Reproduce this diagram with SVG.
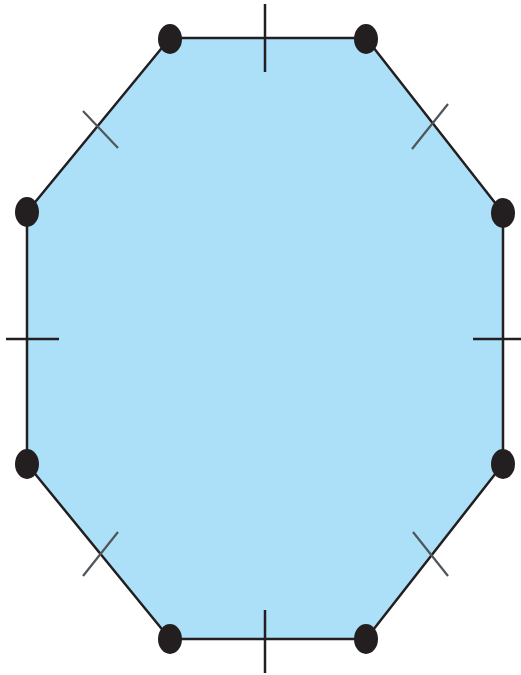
<svg xmlns="http://www.w3.org/2000/svg" width="521" height="675" viewBox="0 0 521 675">
<style>
.edge{fill:#abe0f8;stroke:#231f20;stroke-width:2.5;stroke-linejoin:round}
.tick{stroke:#231f20;stroke-width:2.5}
.dtick{stroke:#4f5559;stroke-width:2.2}
.dot{fill:#231f20}
</style>
<rect width="521" height="675" fill="#ffffff"/>
<g id="octagon">
<polygon class="edge" points="170,38 366,38 503,213 503,464 366,639 170,639 27,464 27,212"/>
</g>
<g id="ticks">
<line class="tick" x1="265" y1="4" x2="265" y2="72"/>
<line class="tick" x1="265" y1="610" x2="265" y2="673"/>
<line class="tick" x1="6" y1="339" x2="59" y2="339"/>
<line class="tick" x1="473" y1="339" x2="521" y2="339"/>
<line class="dtick" x1="83" y1="111" x2="118" y2="148"/>
<line class="dtick" x1="448" y1="104" x2="412" y2="149"/>
<line class="dtick" x1="118" y1="532" x2="83" y2="576"/>
<line class="dtick" x1="413" y1="532" x2="448" y2="576"/>
</g>
<g id="vertices">
<ellipse class="dot" cx="170" cy="39" rx="12" ry="15"/>
<ellipse class="dot" cx="366" cy="39" rx="12" ry="15"/>
<ellipse class="dot" cx="503" cy="213" rx="12" ry="15"/>
<ellipse class="dot" cx="503" cy="464" rx="12" ry="15"/>
<ellipse class="dot" cx="366" cy="639" rx="12" ry="15"/>
<ellipse class="dot" cx="170" cy="639" rx="12" ry="15"/>
<ellipse class="dot" cx="27" cy="464" rx="12" ry="15"/>
<ellipse class="dot" cx="27" cy="212" rx="12" ry="15"/>
</g>
</svg>
